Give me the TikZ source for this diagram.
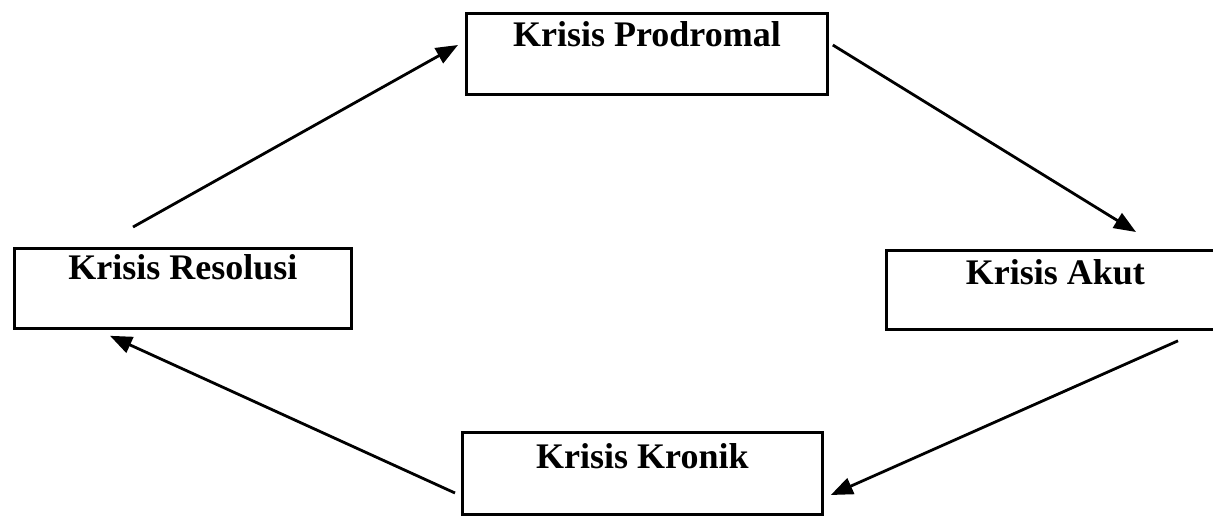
\documentclass[tikz,border=0pt]{standalone}
\usepackage{fontspec}
\setmainfont{Liberation Serif}
\usetikzlibrary{arrows.meta}
\begin{document}
\begin{tikzpicture}[x=1pt,y=-1pt,
  box/.style={draw,line width=2.8pt,anchor=north west,inner xsep=0pt,inner ysep=0pt,
    font=\bfseries\fontsize{36}{40}\selectfont,align=center},
  arr/.style={line width=2.8pt,-{Triangle[length=22pt,width=17pt]}}]
\useasboundingbox[fill=white] (0,0) rectangle (1213,515);
\node[box,minimum width=361pt,text height=33pt,text depth=48pt] (prod) at (465,12) {Krisis Prodromal};
\node[box,minimum width=337pt,text height=31pt,text depth=49pt] (res) at (13,247) {Krisis Resolusi};
\node[box,minimum width=338pt,text height=34pt,text depth=45pt] (akut) at (885,249) {Krisis Akut};
\node[box,minimum width=360pt,text height=36pt,text depth=46pt] (kron) at (461,431) {Krisis Kronik};
\draw[arr] ([shift={(120pt,20pt)}]res.north west) -- ([shift={(-7pt,-33pt)}]prod.north west);
\draw[arr] ([shift={(4pt,-33pt)}]prod.north east) -- ([shift={(251pt,17pt)}]akut.north west);
\draw[arr] ([shift={(293pt,-10pt)}]akut.south west) -- ([shift={(7pt,-64pt)}]kron.north east);
\draw[arr] ([shift={(-6pt,-62pt)}]kron.north west) -- ([shift={(97pt,-6pt)}]res.south west);
\end{tikzpicture}
\end{document}
